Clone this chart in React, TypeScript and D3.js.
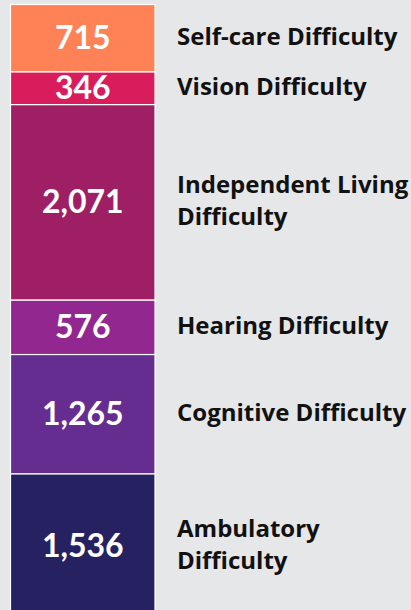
import React from "react";
import * as d3 from "d3";

const categories = [
  "Self-care Difficulty",
  "Vision Difficulty",
  "Independent Living Difficulty",
  "Hearing Difficulty",
  "Cognitive Difficulty",
  "Ambulatory Difficulty",
];
const legendLines = [
  ["Self-care Difficulty"],
  ["Vision Difficulty"],
  ["Independent Living", "Difficulty"],
  ["Hearing Difficulty"],
  ["Cognitive Difficulty"],
  ["Ambulatory", "Difficulty"],
];
const values = [715, 346, 2071, 576, 1265, 1536];
const colors = ["#FF8257", "#D91C5C", "#9E1F63", "#92278F", "#662D91", "#262262"];

const W = 411;
const H = 610;

export default function App() {
  const total = d3.sum(values);
  const y = d3.scaleLinear().domain([0, total]).range([4.5, 619]);
  const x0 = 10.5;
  const x1 = 155;
  const starts = d3.cumsum([0, ...values.slice(0, -1)]);
  const fmt = d3.format(",");
  const lineH = 32;
  return (
    <svg
      width={W}
      height={H}
      style={{ position: "absolute", left: 0, top: 0, display: "block" }}
    >
      <rect x={0} y={0} width={W} height={H} fill="#E6E7E9" />
      {values.map((v, i) => {
        const top = y(starts[i]);
        const bot = y(starts[i] + v);
        const cy = (top + bot) / 2;
        const lines = legendLines[i];
        const firstY = cy - ((lines.length - 1) * lineH) / 2 - 2;
        return (
          <g key={categories[i]}>
            <rect
              x={x0}
              y={top}
              width={x1 - x0}
              height={bot - top}
              fill={colors[i]}
              stroke="#FFFFFF"
              strokeWidth={1.2}
            />
            <text
              x={(x0 + x1) / 2}
              y={cy}
              dy="0.34em"
              textAnchor="middle"
              fill="#FFFFFF"
              fontFamily="Lato, 'Open Sans', sans-serif"
              fontWeight={700}
              fontSize={32}
            >
              {fmt(v)}
            </text>
            <text
              x={177}
              fill="#111111"
              fontFamily="'Open Sans', Lato, sans-serif"
              fontWeight={700}
              fontSize={24}
            >
              {lines.map((l, j) => (
                <tspan key={j} x={177} y={firstY + j * lineH} dy="0.36em">
                  {l}
                </tspan>
              ))}
            </text>
          </g>
        );
      })}
    </svg>
  );
}
